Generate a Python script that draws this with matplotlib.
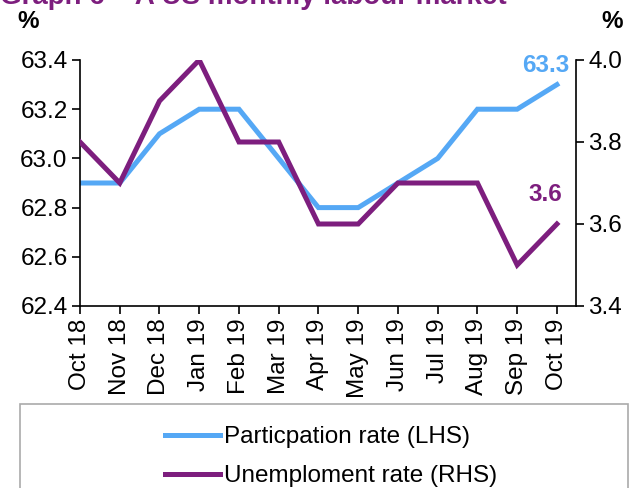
import matplotlib
matplotlib.use("Agg")
import matplotlib.pyplot as plt
from matplotlib.patches import Rectangle

plt.rcParams['font.family'] = ['Liberation Sans', 'DejaVu Sans']

months = ["Oct 18", "Nov 18", "Dec 18", "Jan 19", "Feb 19", "Mar 19", "Apr 19",
          "May 19", "Jun 19", "Jul 19", "Aug 19", "Sep 19", "Oct 19"]
participation = [62.9, 62.9, 63.1, 63.2, 63.2, 63.0, 62.8, 62.8, 62.9, 63.0, 63.2, 63.2, 63.3]
unemployment = [3.8, 3.7, 3.9, 4.0, 3.8, 3.8, 3.6, 3.6, 3.7, 3.7, 3.7, 3.5, 3.6]
left_ticks = [62.4, 62.6, 62.8, 63.0, 63.2, 63.4]
right_ticks = [3.4, 3.6, 3.8, 4.0]

blue = "#55A8F5"
purple = "#7D1E7E"
FS = 17.5

fig = plt.figure(figsize=(6.32, 4.88), dpi=100)
ax = fig.add_axes([80/632, 1-306/488, (576-80)/632, (306-60)/488])
ax2 = ax.twinx()

x = list(range(len(months)))
l1, = ax.plot(x, participation, color=blue, lw=3.6, solid_joinstyle='miter')
l2, = ax2.plot(x, unemployment, color=purple, lw=3.6, solid_joinstyle='miter')

ax.set_xlim(0, 12.48)
ax.set_ylim(62.4, 63.4)
ax2.set_ylim(3.4, 4.0)
ax.set_yticks(left_ticks)
ax.set_yticklabels([f"{v:.1f}" for v in left_ticks])
ax2.set_yticks(right_ticks)
ax2.set_yticklabels([f"{v:.1f}" for v in right_ticks])
ax.set_xticks(x)
ax.set_xticklabels(months, rotation=90)

for a in (ax, ax2):
    a.spines['top'].set_visible(False)
    for s in a.spines.values():
        s.set_linewidth(1.2)
    a.tick_params(labelsize=FS, width=1.2, length=6, direction='out', pad=3)
ax.spines['right'].set_visible(False)
ax2.spines['left'].set_visible(False)
ax2.spines['bottom'].set_visible(False)

ax.text(x[-1] - 0.28, participation[-1] + 0.03, f"{participation[-1]:.1f}", color=blue,
        fontsize=FS, fontweight='bold', ha='center', va='bottom')
ax2.text(x[-1] - 0.28, unemployment[-1] + 0.045, f"{unemployment[-1]:.1f}", color=purple,
         fontsize=FS, fontweight='bold', ha='center', va='bottom')

fig.text(28/632, 1-21/488, "%", fontsize=FS, fontweight='bold', ha='center', va='center')
fig.text(612/632, 1-21/488, "%", fontsize=FS, fontweight='bold', ha='center', va='center')
fig.text(0.0, 1.0 + 3/488, "Graph 6 – A US monthly labour market", fontsize=20,
         fontweight='bold', color=purple, ha='left', va='center')

fig.patches.append(Rectangle((20/632, -0.05), (628-20)/632, (1-404/488) + 0.05,
                             transform=fig.transFigure, fill=False, edgecolor='#AAAAAA', lw=1.2))
fig.legend([l1, l2], ["Particpation rate (LHS)", "Unemploment rate (RHS)"],
           loc='upper left', bbox_to_anchor=(153/632, 1-414/488), frameon=False,
           fontsize=FS, handlelength=2.26, handletextpad=0.16, labelspacing=0.7,
           borderpad=0)

fig.savefig("out.png", dpi=100)
